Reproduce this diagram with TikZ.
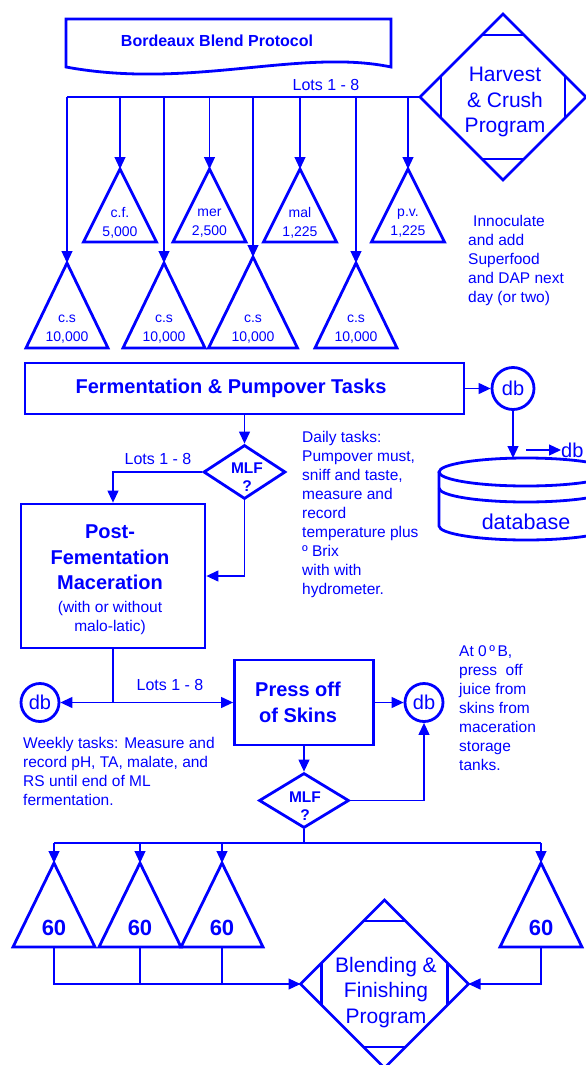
\documentclass[tikz,border=0pt]{standalone}
\usepackage{fontspec}
\setmainfont{Liberation Sans}
\usetikzlibrary{arrows.meta,calc,shapes.geometric}
\definecolor{flowblue}{RGB}{0,0,255}

\newcommand{\plainsmall}{\mdseries\fontsize{15.5}{19}\selectfont}
% tank: [text style]{name}{x}{apex y}{base y}{half width}{text}
\newcommand{\tank}[7][tanktext]{%
  \draw[shapeline] ({#3-#6},#5) -- (#3,#4) -- ({#3+#6},#5) -- cycle;
  \coordinate (#2) at (#3,#4);
  \coordinate (#2-base) at (#3,#5);
  \node[#1] (#2-label) at (#3,{#5-19}) {#7};}
% corner bars of a program diamond
\newcommand{\progmarks}[1]{%
  \draw[shapeline] ($(#1.north)+(-21,21)$) -- ($(#1.north)+(21,21)$);
  \draw[shapeline] ($(#1.south)+(-21,-21)$) -- ($(#1.south)+(21,-21)$);
  \draw[shapeline] ($(#1.west)+(21,-21)$) -- ($(#1.west)+(21,21)$);
  \draw[shapeline] ($(#1.east)+(-21,-21)$) -- ($(#1.east)+(-21,21)$);}

\tikzset{
  shapeline/.style={draw=flowblue, line width=2.8pt},
  link/.style={draw=flowblue, line width=1.2pt},
  arrow/.style={link, -{Triangle[length=12pt,width=11pt]}},
  note/.style={text=flowblue, font=\fontsize{15.5}{19}\selectfont, align=left, anchor=north west, inner sep=0pt},
  lots/.style={text=flowblue, font=\fontsize{16}{19}\selectfont, inner sep=0pt},
  titletext/.style={text=flowblue, font=\bfseries\fontsize{16}{19}\selectfont, inner sep=0pt},
  taskbox/.style={shapeline, rectangle, inner sep=0pt},
  boxtext/.style={text=flowblue, font=\bfseries\fontsize{20}{25.5}\selectfont, align=center, inner sep=0pt},
  dbcircle/.style={shapeline, circle, minimum size=38pt, inner sep=0pt, text=flowblue, font=\fontsize{20}{24}\selectfont},
  dbtext/.style={text=flowblue, font=\fontsize{21.5}{25}\selectfont, inner sep=0pt},
  mlf/.style={shapeline, diamond, inner sep=0pt, minimum width=82pt, minimum height=54pt},
  mlftext/.style={text=flowblue, font=\bfseries\fontsize{15.5}{18.5}\selectfont, align=center, inner sep=0pt},
  program/.style={shapeline, diamond, inner sep=0pt, outer sep=0pt, minimum size=166pt},
  progtext/.style={text=flowblue, font=\fontsize{21}{25.5}\selectfont, align=center, inner sep=0pt},
  tanktext/.style={text=flowblue, font=\fontsize{14}{18.5}\selectfont, align=center, inner sep=0pt},
  tankbig/.style={text=flowblue, font=\bfseries\fontsize{22}{26}\selectfont, inner sep=0pt},
}

\begin{document}
\begin{tikzpicture}[x=1pt, y=-1pt]
	\path[use as bounding box, fill=white] (0,0) rectangle (586,1065);
	%%%%% START %%%%%
	
	\draw[shapeline] (66,19) -- (391,19) -- (391,67) .. controls (300,48) and (190,90) .. (66,67) -- cycle;
	\node[titletext] (title) at (217,41) {Bordeaux Blend Protocol};
	
	\node[program] (hc) at (503,97) {};
	\progmarks{hc}
	\node[progtext] (hc-text) at (505,102) {Harvest\\\& Crush\\Program};
	\node[lots] (lotsA) at (326,85) {Lots 1 - 8};
	
	\tank{cs1}{67}{263}{348}{41}{c.s\\10,000}
	\tank{cf}{120}{169}{242}{36.5}{c.f.\\5,000}
	\tank{cs2}{164}{263}{348}{41}{c.s\\10,000}
	\tank{mer}{209.5}{169}{242}{36.5}{mer\\2,500}
	\tank{cs3}{253}{257}{348}{44.5}{c.s\\10,000}
	\tank{mal}{300}{169}{242}{36.5}{mal\\1,225}
	\tank{cs4}{356}{263}{348}{41}{c.s\\10,000}
	\tank{pv}{408}{169}{242}{36.5}{p.v.\\1,225}
	
	\draw[link] (hc.west) -- (cs1 |- hc.west);
	\foreach \tk in {cs1,cf,cs2,mer,cs3,mal,cs4,pv}
		\draw[arrow] (\tk |- hc.west) -- (\tk);
	
	\node[note] (inoc) at (468,214.7) {\hspace*{5pt}Innoculate\\and add\\Superfood\\and DAP next\\day (or two)};
	
	% fermentation and database
	\node[taskbox, minimum width=439pt, minimum height=51pt] (ferm) at (244.5,388.5) {};
	\node[boxtext] (ferm-text) at (231,388.5) {Fermentation \& Pumpover Tasks};
	\node[dbcircle, minimum size=42pt] (dbA) at (513,388.5) {db};
	\draw[arrow] (ferm.east) -- (dbA.west);
	
	\draw[shapeline] (526,472) ellipse [x radius=87, y radius=14];
	\draw[shapeline] (439,488) arc [start angle=180, end angle=0, x radius=87, y radius=14];
	\draw[shapeline] (439,472) -- (439,526) arc [start angle=180, end angle=0, x radius=87, y radius=14] -- (613,472);
	\node[dbtext] (database) at (526,522) {database};
	\coordinate (dbin) at (513,458);
	\draw[arrow] (dbA.south) -- (dbin);
	\coordinate (dbarrow) at (526,450);
	\node[dbtext, font=\fontsize{20}{24}\selectfont, anchor=west] (dbout) at (561,450) {db};
	\draw[arrow] (dbarrow) -- (dbout.west);
	
	\node[note] (daily) at (302,430.7) {Daily tasks:\\Pumpover must,\\sniff and taste,\\measure and\\record\\temperature plus\\º Brix\\with with\\hydrometer.};
	
	% maceration
	\node[mlf] (mlfA) at (244.5,472) {};
	\node[mlftext] (mlfA-text) at (247,477) {MLF\\?};
	\draw[arrow] (ferm.south) -- (mlfA.north);
	\node[lots] (lotsB) at (158,459) {Lots 1 - 8};
	\node[taskbox, minimum width=184pt, minimum height=144pt] (post) at (113,576) {};
	\node[boxtext] (post-text) at (110,580) {Post-\\Fementation\\Maceration\\[-2.5pt]\plainsmall (with or without\\[-6.5pt]\plainsmall malo-latic)};
	\draw[arrow] (mlfA.west) -| (post.north);
	\draw[arrow] (mlfA.south) |- (post.east);
	
	% pressing
	\node[taskbox, minimum width=139pt, minimum height=85pt] (press) at (304,702.5) {};
	\node[boxtext] (press-text) at (298,702.5) {Press off\\of Skins};
	\node[dbcircle] (dbB) at (40,702.5) {db};
	\node[dbcircle] (dbC) at (424,702.5) {db};
	\coordinate (split) at (113,702.5);
	\draw[link] (post.south) -- (split);
	\draw[arrow] (split) -- (dbB.east);
	\draw[arrow] (split) -- (press.west);
	\draw[arrow] (press.east) -- (dbC.west);
	\node[lots] (lotsC) at (170,685) {Lots 1 - 8};
	
	\node[note] (weekly) at (23,736.7) {Weekly tasks: Measure and\\record pH, TA, malate, and\\RS until end of ML\\fermentation.};
	\node[note] (zerob) at (459,645.7) {At 0\,º\,B,\\press\ \ off\\juice from\\skins from\\maceration\\storage\\tanks.};
	
	\node[mlf, minimum width=90pt, minimum height=55pt] (mlfB) at (304,800.5) {};
	\node[mlftext] (mlfB-text) at (305,806) {MLF\\?};
	\draw[arrow] (press.south) -- (mlfB.north);
	\draw[arrow] (mlfB.east) -| (dbC.south);
	
	% ageing and blending
	\tank[tankbig]{sA}{54}{863}{947}{41}{60}
	\tank[tankbig]{sB}{140}{863}{947}{41}{60}
	\tank[tankbig]{sC}{222}{863}{947}{41}{60}
	\tank[tankbig]{sD}{541}{863}{947}{41}{60}
	
	\coordinate (split2) at (304,843);
	\draw[link] (mlfB.south) -- (split2);
	\draw[link] (sA |- split2) -- (sD |- split2);
	\foreach \tk in {sA,sB,sC,sD}
		\draw[arrow] (\tk |- split2) -- (\tk);
	
	\node[program, minimum size=168pt] (blend) at (384.5,984) {};
	\progmarks{blend}
	\node[progtext] (blend-text) at (386,992.5) {Blending \&\\Finishing\\Program};
	\draw[arrow] (sA-base) |- (blend.west);
	\draw[link] (sB-base) -- (sB-base |- blend.west);
	\draw[link] (sC-base) -- (sC-base |- blend.west);
	\draw[arrow] (sD-base) |- (blend.east);
	
	%%%%% END %%%%%
\end{tikzpicture}
\end{document}
